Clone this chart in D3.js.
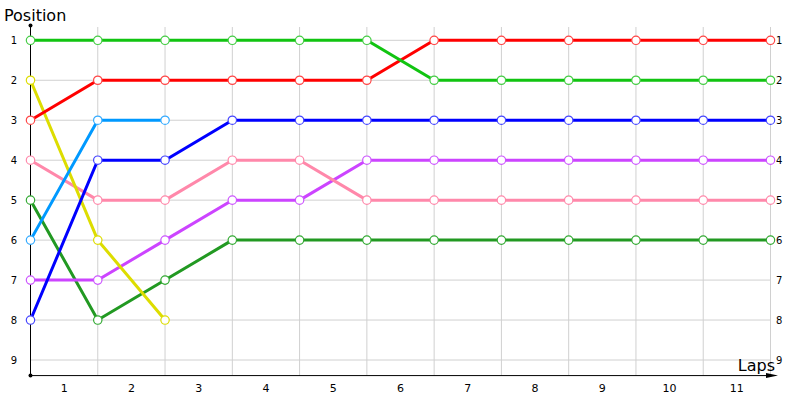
<!DOCTYPE html>
<html><head><meta charset="utf-8">
<script src="https://cdn.jsdelivr.net/npm/d3@7"></script>
<style>body{margin:0;background:#fff}svg{display:block}text{font-family:"DejaVu Sans",Verdana,sans-serif}</style>
</head><body><svg id="c" width="800" height="400"></svg>
<script>
const lapLabels = ["1","2","3","4","5","6","7","8","9","10","11"];
const positions = [1,2,3,4,5,6,7,8,9];
const redPos       = [3,2,2,2,2,2,1,1,1,1,1,1];
const greenPos     = [1,1,1,1,1,1,2,2,2,2,2,2];
const bluePos      = [8,4,4,3,3,3,3,3,3,3,3,3];
const lightBluePos = [6,3,3];
const yellowPos    = [2,6,8];
const pinkPos      = [4,5,5,4,4,5,5,5,5,5,5,5];
const purplePos    = [7,7,6,5,5,4,4,4,4,4,4,4];
const darkGreenPos = [5,8,7,6,6,6,6,6,6,6,6,6];

const series = [
  {v: darkGreenPos, c:"#229922", m:"#33aa33"},
  {v: purplePos, c:"#cc44ff", m:"#cc55ff"},
  {v: pinkPos, c:"#ff88aa", m:"#ff88aa"},
  {v: yellowPos, c:"#dddd00", m:"#dddd00"},
  {v: lightBluePos, c:"#0099ff", m:"#33aaff"},
  {v: bluePos, c:"#0000ff", m:"#4444ff"},
  {v: redPos, c:"#ff0000", m:"#ff4444"},
  {v: greenPos, c:"#11c411", m:"#44cc44"}
];

const svg = d3.select("#c");
const x = d3.scaleLinear().domain([0, lapLabels.length]).range([30.5, 770.5]);
const y = d3.scaleLinear().domain([1, 9]).range([40.3, 360]);
const yBottom = y(9.39), yTop = y(0.63);

// grid
const g = svg.append("g");
g.selectAll("line.v").data(d3.range(1, lapLabels.length+1)).join("line")
  .attr("x1", d=>x(d)).attr("x2", d=>x(d)).attr("y1", 27).attr("y2", yBottom)
  .attr("stroke", "#d0d0d0").attr("stroke-width", 1);
g.selectAll("line.h").data(positions).join("line")
  .attr("x1", x(0)).attr("x2", x(lapLabels.length)).attr("y1", d=>y(d)).attr("y2", d=>y(d))
  .attr("stroke", "#d0d0d0").attr("stroke-width", 1);

// axes
svg.append("line").attr("x1", x(0)).attr("x2", x(0)).attr("y1", yTop).attr("y2", yBottom).attr("stroke","#000");
svg.append("line").attr("x1", x(0)).attr("x2", 772).attr("y1", yBottom).attr("y2", yBottom).attr("stroke","#000");
svg.append("circle").attr("cx", x(0)).attr("cy", yTop).attr("r", 2).attr("fill","#000");
svg.append("circle").attr("cx", x(0)).attr("cy", yBottom).attr("r", 2).attr("fill","#000");
svg.append("path").attr("d", `M766,${yBottom-2.5}L778,${yBottom}L766,${yBottom+2.5}Z`).attr("fill","#000");

// y labels left & right
svg.selectAll("text.yl").data(positions).join("text")
  .attr("x", 14).attr("y", d=>y(d)+4).attr("text-anchor","middle")
  .attr("font-size", 10).attr("fill","#000").text(d=>d);
svg.selectAll("text.yr").data(positions).join("text")
  .attr("x", 776).attr("y", d=>y(d)+4).attr("text-anchor","start")
  .attr("font-size", 10).attr("fill","#000").text(d=>d);
// x labels
svg.selectAll("text.xl").data(lapLabels).join("text")
  .attr("x", (d,i)=>x(i+0.5)).attr("y", 392).attr("text-anchor","middle")
  .attr("font-size", 11).attr("fill","#000").text(d=>d);

svg.append("text").attr("x", 4).attr("y", 21).attr("font-size", 16).attr("fill","#000").text("Position");
svg.append("text").attr("x", 775).attr("y", 371).attr("text-anchor","end").attr("font-size", 16).attr("fill","#000").text("Laps");

// series
const line = d3.line().x((d,i)=>x(i)).y(d=>y(d));
series.forEach(s=>{
  svg.append("path").attr("d", line(s.v)).attr("fill","none").attr("stroke", s.c).attr("stroke-width", 3);
});
series.forEach(s=>{
  svg.append("g").selectAll("circle").data(s.v).join("circle")
    .attr("cx",(d,i)=>x(i)).attr("cy",d=>y(d)).attr("r",4.2)
    .attr("fill","#fff").attr("stroke", s.m).attr("stroke-width",1.2);
});
</script></body></html>
